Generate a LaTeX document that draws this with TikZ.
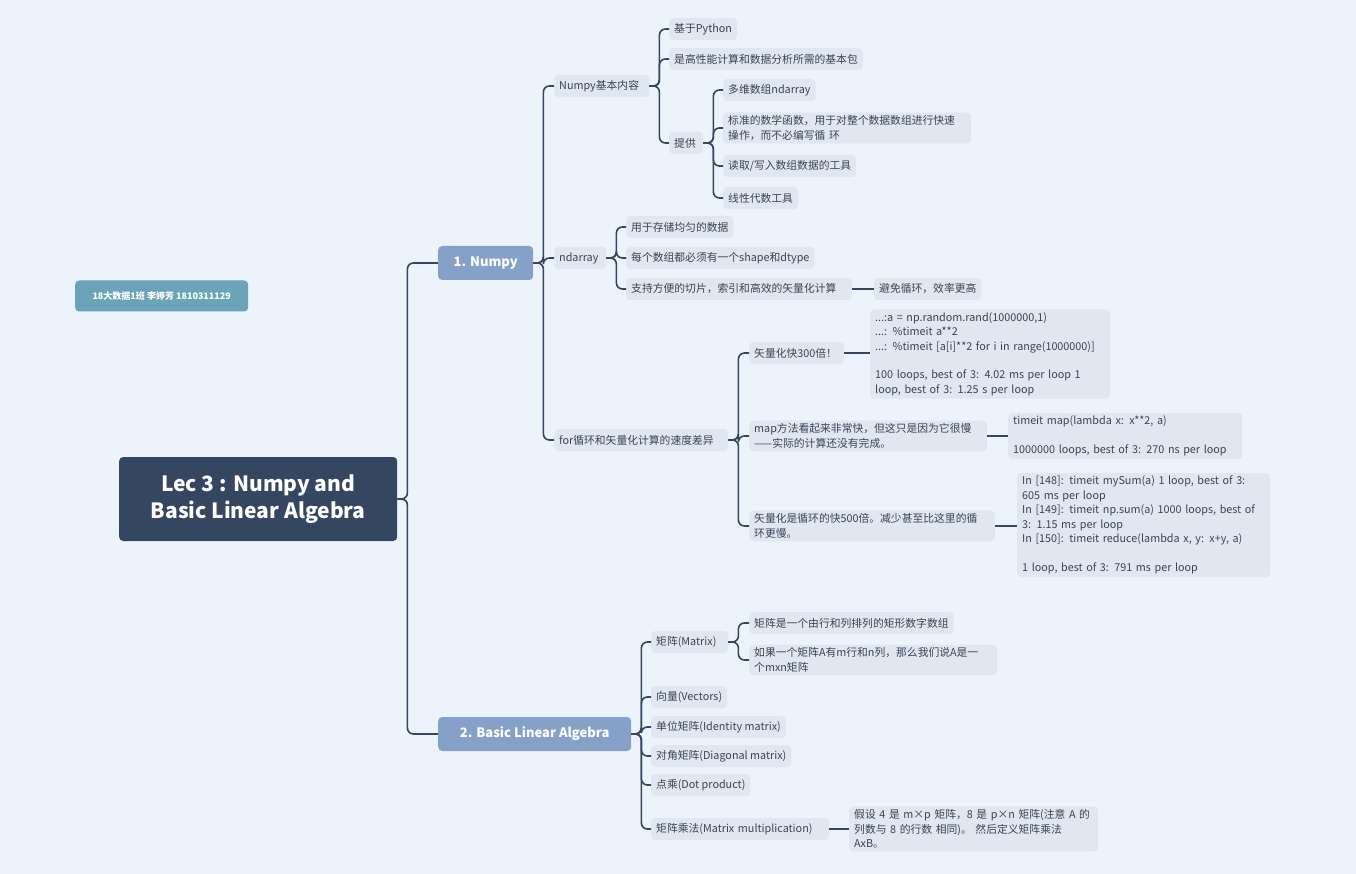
\documentclass[tikz,border=0pt]{standalone}
\usepackage{fontspec}
\setmainfont{Noto Sans CJK SC}
\begin{document}
\definecolor{bg}{HTML}{EDF3FA}
\definecolor{nf}{HTML}{E0E7F0}
\definecolor{ln}{HTML}{354660}
\definecolor{tx}{HTML}{3A4354}
\definecolor{mainc}{HTML}{86A1C8}
\definecolor{tagc}{HTML}{6BA3B8}
\begin{tikzpicture}[x=1pt,y=-1pt,
  leaf/.style={rectangle,rounded corners=4pt,fill=nf,text=tx,font=\fontsize{10.8}{14.5}\selectfont,anchor=west,inner xsep=5pt,inner ysep=3pt,minimum height=22pt},
  ml/.style={leaf,align=left,text width=#1},
  main/.style={rectangle,rounded corners=4pt,fill=mainc,text=white,font=\fontsize{13}{15}\selectfont\bfseries,anchor=west,minimum height=34pt},
  conn/.style={draw=ln,line width=1.6pt,rounded corners=6pt}]
\fill[bg] (0,0) rectangle (1356,874);
\node[rectangle,rounded corners=4pt,fill=ln,text=white,font=\fontsize{21}{27}\selectfont\bfseries,align=center,minimum width=278pt,minimum height=84pt,anchor=west] (root) at (119,499) {Lec 3 : Numpy and\\Basic Linear Algebra};
\node[rectangle,rounded corners=4pt,fill=tagc,text=white,font=\fontsize{9}{11}\selectfont\bfseries,minimum width=173pt,minimum height=31pt,anchor=west] (tag) at (75,296) {18大数据1班 李婷芳 1810311129};
\node[main,minimum width=95pt] (n1) at (438,263) {1. Numpy};
\node[main,minimum width=193pt] (n2) at (438,734) {2. Basic Linear Algebra};
\node[ml=85pt] (a) at (554,86) {Numpy基本内容};
\node[ml=42pt] (b) at (554,258) {ndarray};
\node[ml=164pt] (c) at (554,440) {for循环和矢量化计算的速度差异};
\node[leaf] (a1) at (669,29) {基于Python};
\node[leaf] (a2) at (669,59) {是高性能计算和数据分析所需的基本包};
\node[ml=24pt] (a3) at (669,143) {提供};
\node[leaf] (p1) at (723,90) {多维数组ndarray};
\node[ml=238pt] (p2) at (723,128) {标准的数学函数，用于对整个数据数组进行快速\\操作，而不必编写循 环};
\node[leaf] (p3) at (723,166) {读取/写入数组数据的工具};
\node[leaf] (p4) at (723,198) {线性代数工具};
\node[leaf] (b1) at (626,227) {用于存储均匀的数据};
\node[leaf] (b2) at (626,258) {每个数组都必须有一个shape和dtype};
\node[ml=216pt] (b3) at (626,289) {支持方便的切片，索引和高效的矢量化计算};
\node[leaf] (b31) at (874,289) {避免循环，效率更高};
\node[ml=85pt] (c1) at (749,353) {矢量化快300倍！};
\node[ml=228pt] (c2) at (749,436) {map方法看起来非常快，但这只是因为它很慢\\——实际的计算还没有完成。};
\node[ml=236pt] (c3) at (749,526) {矢量化是循环的快500倍。减少甚至比这里的循\\环更慢。};
\node[ml=230pt] (k1) at (870,354) {...:a = np.random.rand(1000000,1)\\...: \%timeit a**2\\...: \%timeit [a[i]**2 for i in range(1000000)]\\[14pt]100 loops, best of 3: 4.02 ms per loop 1 loop, best of 3: 1.25 s per loop};
\node[ml=224pt] (k2) at (1008,436) {timeit map(lambda x: x**2, a)\\[14pt]1000000 loops, best of 3: 270 ns per loop};
\node[ml=243pt] (k3) at (1017,525) {In [148]: timeit mySum(a) 1 loop, best of 3: 605 ms per loop\\In [149]: timeit np.sum(a) 1000 loops, best of 3: 1.15 ms per loop\\In [150]: timeit reduce(lambda x, y: x+y, a)\\[14pt]1 loop, best of 3: 791 ms per loop};
\node[ml=67pt] (m1) at (651,642) {矩阵(Matrix)};
\node[leaf] (m2) at (651,697) {向量(Vectors)};
\node[leaf] (m3) at (651,727) {单位矩阵(Identity matrix)};
\node[leaf] (m4) at (651,756) {对角矩阵(Diagonal matrix)};
\node[leaf] (m5) at (651,785) {点乘(Dot product)};
\node[ml=168pt] (m6) at (651,829) {矩阵乘法(Matrix multiplication)};
\node[leaf] (m11) at (749,623) {矩阵是一个由行和列排列的矩形数字数组};
\node[ml=238pt] (m12) at (749,660) {如果一个矩阵A有m行和n列，那么我们说A是一\\个mxn矩阵};
\node[ml=239pt] (m61) at (849,829) {假设 4 是 m×p 矩阵，8 是 p×n 矩阵(注意 A 的\\列数与 8 的行数 相同)。 然后定义矩阵乘法\\AxB。};
\foreach \p/\c in {root/n1,root/n2,n1/a,n1/b,n1/c,a/a1,a/a2,a/a3,a3/p1,a3/p2,a3/p3,a3/p4,b/b1,b/b2,b/b3,c/c1,c/c2,c/c3,n2/m1,n2/m2,n2/m3,n2/m4,n2/m5,n2/m6,m1/m11,m1/m12}
  \draw[conn] (\p.east) -- ++(10,0) |- (\c.west);
\foreach \p/\c in {b3/b31,c1/k1,c2/k2,c3/k3,m6/m61}
  \draw[conn] (\p.east) -- (\c.west |- \p.east);
\end{tikzpicture}
\end{document}
